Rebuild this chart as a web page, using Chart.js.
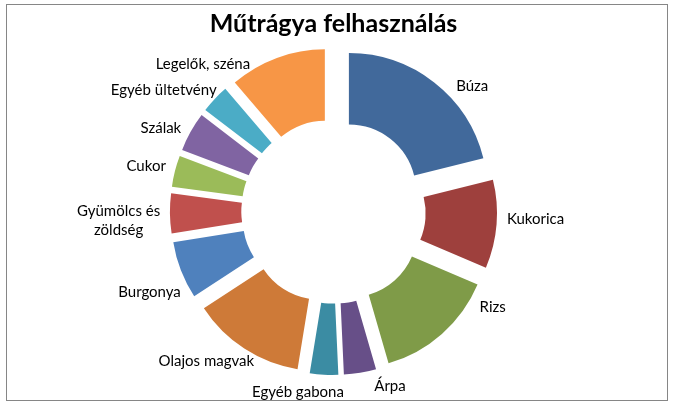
<!DOCTYPE html>
<html>
<head>
<meta charset="utf-8">
<script src="https://cdn.jsdelivr.net/npm/chart.js@4"></script>
<style>
  body { margin: 0; background: #fff; }
  canvas { display: block; }
</style>
</head>
<body>
<canvas id="myChart" width="680" height="409"></canvas>
<script>
const categories = ["Búza", "Kukorica", "Rizs", "Árpa", "Egyéb gabona", "Olajos magvak",
  "Burgonya", ["Gyümölcs és", "zöldség"], "Cukor", "Szálak", "Egyéb ültetvény", "Legelők, széna"];
const shares = [21.1, 10.3, 14.1, 3.75, 3.3, 13.2, 6.7, 4.65, 3.65, 4.6, 3.35, 11.25];
const colors = ["#41699b", "#9e403d", "#7f9b48", "#674f88", "#3b8ca3", "#ce7a38",
  "#4f81bd", "#c0504d", "#9bbb59", "#8064a2", "#4bacc6", "#f79646"];

// how far every slice is pulled out, and small angle nudges for the labels (degrees)
const explode = 25;
const labelNudge = [9, -2, -17, -8, 6, 2, -5, -2, 0, -2, -2, -16];

const explodePlugin = {
  id: "explode",
  beforeDraw(chart) {
    const ctx = chart.ctx;
    ctx.save();
    ctx.fillStyle = "#fff";
    ctx.fillRect(0, 0, chart.width, chart.height);
    ctx.strokeStyle = "#868686";
    ctx.lineWidth = 1;
    ctx.strokeRect(6.5, 4.5, 661, 396);
    ctx.restore();
  },
  beforeDatasetsDraw(chart) {
    const ctx = chart.ctx;
    const meta = chart.getDatasetMeta(0);
    meta.data.forEach(function (arc) {
      const mid = (arc.startAngle + arc.endAngle) / 2;
      ctx.save();
      ctx.translate(Math.cos(mid) * explode, Math.sin(mid) * explode);
      arc.draw(ctx);
      ctx.restore();
    });
    return false;
  },
  afterDraw(chart) {
    const ctx = chart.ctx;
    const meta = chart.getDatasetMeta(0);
    ctx.save();
    ctx.font = "15px Lato";
    ctx.fillStyle = "#000";
    ctx.textAlign = "center";
    ctx.textBaseline = "middle";
    const lineH = 19;
    meta.data.forEach(function (arc, i) {
      const lines = [].concat(categories[i]);
      const w = Math.max.apply(null, lines.map(function (l) { return ctx.measureText(l).width; }));
      const h = lines.length * lineH;
      const mid = (arc.startAngle + arc.endAngle) / 2 + labelNudge[i] * Math.PI / 180;
      const ux = Math.cos(mid);
      const uy = Math.sin(mid);
      const r = arc.outerRadius + explode + 10;
      const cx = arc.x + ux * r + ux * w / 2;
      const cy = arc.y + uy * r + uy * h / 2;
      lines.forEach(function (l, k) {
        ctx.fillText(l, cx, cy - h / 2 + lineH / 2 + k * lineH);
      });
    });
    ctx.restore();
  }
};

const ctx = document.getElementById("myChart").getContext("2d");
const myChart = new Chart(ctx, {
  type: "doughnut",
  data: {
    labels: categories,
    datasets: [
      {
        data: shares,
        backgroundColor: colors,
        borderWidth: 0,
      },
    ],
  },
  options: {
    responsive: false,
    animation: false,
    radius: 138.6,
    cutout: "48.5%",
    layout: {
      padding: { top: 0, left: 0, right: 13, bottom: 25.2 },
    },
    plugins: {
      legend: { display: false },
      tooltip: { enabled: false },
      title: {
        display: true,
        text: "Műtrágya felhasználás",
        color: "#000",
        font: { family: "Lato", size: 25, weight: "bold", lineHeight: 1.2 },
        padding: { top: 9, bottom: 0 },
      },
    },
  },
  plugins: [explodePlugin],
});
</script>
</body>
</html>
